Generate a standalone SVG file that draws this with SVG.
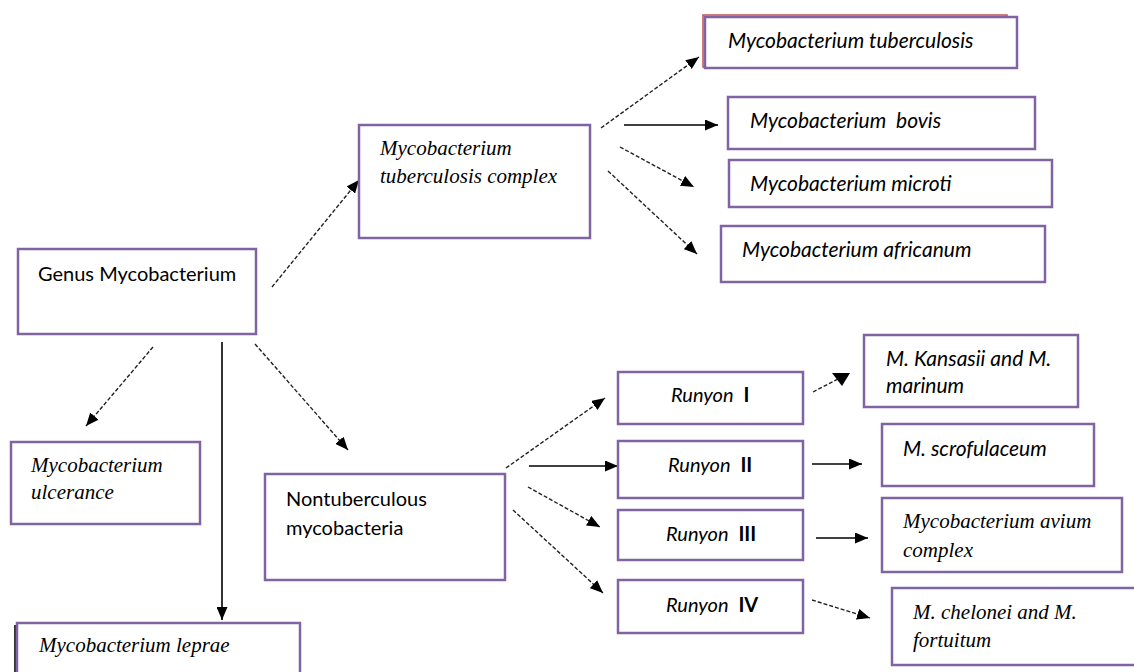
<svg xmlns="http://www.w3.org/2000/svg" width="1134" height="672" viewBox="0 0 1134 672">
<defs>
<style>
.box{fill:#fff;stroke:#8064a2;stroke-width:2.5}
.sans{font-family:Lato,"Liberation Sans",sans-serif;font-size:20px;fill:#000}
.sit{font-family:Lato,"Liberation Sans",sans-serif;font-size:21px;font-style:italic;fill:#000}
.run{font-family:Lato,"Liberation Sans",sans-serif;font-size:20px;font-style:italic;fill:#000}
.ser{font-family:"Liberation Serif","Times New Roman",serif;font-size:21px;font-style:italic;fill:#000}
.bold{font-style:normal;font-weight:bold}
.dash{fill:none;stroke:#222;stroke-width:1.4;stroke-dasharray:4 2;marker-end:url(#ah)}
.solid{fill:none;stroke:#000;stroke-width:1.6;marker-end:url(#ah)}
</style>
<marker id="ah" viewBox="0 0 13 11" refX="13" refY="5.5" markerWidth="13" markerHeight="11" markerUnits="userSpaceOnUse" orient="auto">
<path d="M0,0 L13,5.5 L0,11 Z" fill="#000"/>
</marker>
</defs>
<rect width="1134" height="672" fill="#fff"/>

<g id="connectors">
<line class="dash" x1="272" y1="287" x2="359" y2="180"/>
<line class="dash" x1="601" y1="128" x2="699" y2="57"/>
<line class="solid" x1="624" y1="125" x2="718" y2="125"/>
<line class="dash" x1="620" y1="147" x2="694" y2="187"/>
<line class="dash" x1="608" y1="171" x2="697" y2="254"/>
<line class="dash" x1="153" y1="347" x2="86" y2="426"/>
<line class="solid" x1="222" y1="342" x2="222" y2="620"/>
<line class="dash" x1="255" y1="344" x2="348" y2="450"/>
<line class="dash" x1="506" y1="468" x2="605" y2="398"/>
<line class="solid" x1="529" y1="466" x2="618" y2="466"/>
<line class="dash" x1="528" y1="487" x2="600" y2="527"/>
<line class="dash" x1="513" y1="510" x2="603" y2="593"/>
<line fill="none" stroke="#222" stroke-width="1.4" stroke-dasharray="4 2" x1="813" y1="392" x2="838" y2="379"/>
<polygon points="832,373 850,373 842,386" fill="#000"/>
<line class="solid" x1="812" y1="464" x2="862" y2="464"/>
<line class="solid" x1="816" y1="538" x2="868" y2="538"/>
<line class="dash" x1="812" y1="600" x2="870" y2="618"/>
</g>

<g id="genus">
<rect class="box" x="18" y="249" width="238" height="85"/>
<text class="sans" x="38" y="281">Genus Mycobacterium</text>
</g>

<g id="mtc">
<rect class="box" x="359" y="125" width="231" height="113"/>
<text class="ser" x="380" y="155">Mycobacterium</text>
<text class="ser" x="380" y="183">tuberculosis complex</text>
</g>

<g id="m-tuberculosis">
<rect x="703" y="15" width="304" height="52" fill="none" stroke="#c0504d" stroke-width="1.5"/>
<rect class="box" x="705" y="17" width="312" height="51"/>
<text class="sit" x="728" y="48">Mycobacterium tuberculosis</text>
</g>

<g id="m-bovis">
<rect class="box" x="728" y="97" width="307" height="52"/>
<text class="sit" x="750" y="128" xml:space="preserve">Mycobacterium  bovis</text>
</g>

<g id="m-microti">
<rect class="box" x="729" y="160" width="323" height="47"/>
<text class="sit" x="750" y="191">Mycobacterium microti</text>
</g>

<g id="m-africanum">
<rect class="box" x="721" y="226" width="324" height="56"/>
<text class="sit" x="742" y="257">Mycobacterium africanum</text>
</g>

<g id="m-ulcerance">
<rect class="box" x="11" y="442" width="189" height="82"/>
<text class="ser" x="31" y="472">Mycobacterium</text>
<text class="ser" x="31" y="499">ulcerance</text>
</g>

<g id="m-leprae">
<line x1="15" y1="625" x2="15" y2="672" stroke="#333" stroke-width="2"/>
<rect class="box" x="17" y="623" width="283" height="60"/>
<text class="ser" x="39" y="652">Mycobacterium leprae</text>
</g>

<g id="ntm">
<rect class="box" x="265" y="474" width="240" height="106"/>
<text class="sans" x="286" y="506">Nontuberculous</text>
<text class="sans" x="286" y="535">mycobacteria</text>
</g>

<g id="runyon-1">
<rect class="box" x="618" y="372" width="185" height="52"/>
<text class="run" x="671" y="402">Runyon<tspan class="bold" dx="5"> I</tspan></text>
</g>

<g id="runyon-2">
<rect class="box" x="618" y="441" width="185" height="57"/>
<text class="run" x="668" y="472">Runyon<tspan class="bold" dx="5"> II</tspan></text>
</g>

<g id="runyon-3">
<rect class="box" x="618" y="510" width="185" height="50"/>
<text class="run" x="666" y="541">Runyon<tspan class="bold" dx="5"> III</tspan></text>
</g>

<g id="runyon-4">
<rect class="box" x="618" y="580" width="185" height="53"/>
<text class="run" x="666" y="612">Runyon<tspan class="bold" dx="5"> IV</tspan></text>
</g>

<g id="m-kansasii">
<rect class="box" x="864" y="335" width="214" height="72"/>
<text class="sit" x="886" y="366">M. Kansasii and M.</text>
<text class="sit" x="886" y="393">marinum</text>
</g>

<g id="m-scrofulaceum">
<rect class="box" x="882" y="424" width="212" height="62"/>
<text class="sit" x="903" y="456">M. scrofulaceum</text>
</g>

<g id="m-avium">
<rect class="box" x="882" y="498" width="240" height="74"/>
<text class="ser" x="903" y="528">Mycobacterium avium</text>
<text class="ser" x="903" y="557">complex</text>
</g>

<g id="m-chelonei">
<rect class="box" x="892" y="588" width="250" height="77"/>
<text class="ser" x="913" y="619">M. chelonei and M.</text>
<text class="ser" x="913" y="647">fortuitum</text>
</g>
</svg>
